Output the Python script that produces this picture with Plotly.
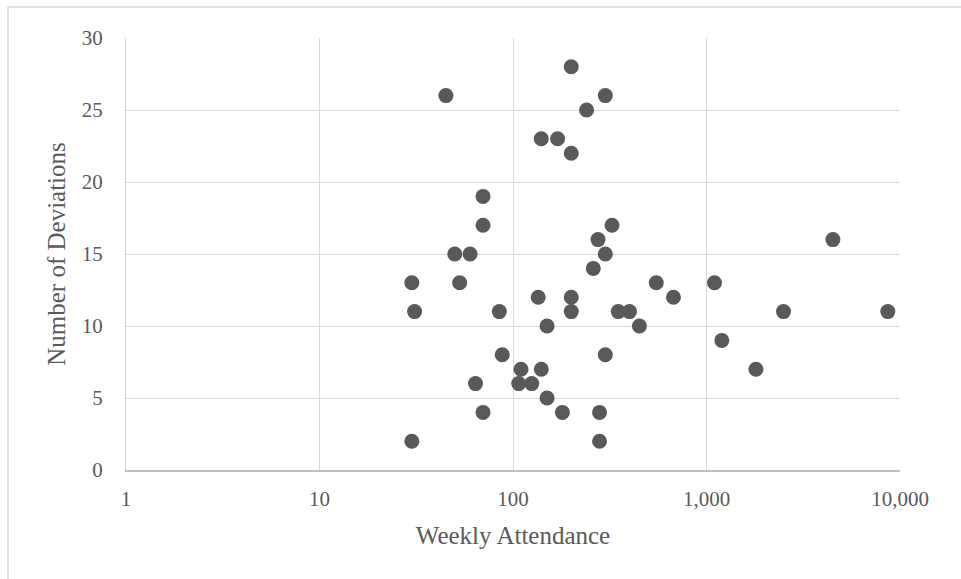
import plotly.graph_objects as go

attendance = [30, 30, 31, 45, 50, 53, 60, 64, 70, 70, 70, 85, 88, 107, 110, 125,
              135, 140, 140, 150, 150, 170, 180, 200, 200, 200, 200, 240, 260, 275,
              280, 280, 300, 300, 300, 325, 350, 400, 450, 550, 675, 1100, 1200,
              1800, 2500, 4500, 8650]
deviations = [2, 13, 11, 26, 15, 13, 15, 6, 19, 17, 4, 11, 8, 6, 7, 6,
              12, 23, 7, 10, 5, 23, 4, 28, 22, 12, 11, 25, 14, 16,
              4, 2, 26, 15, 8, 17, 11, 11, 10, 13, 12, 13, 9,
              7, 11, 16, 11]

x_tickvals = [1, 10, 100, 1000, 10000]
x_ticktext = ["1", "10", "100", "1,000", "10,000"]
y_tickvals = [0, 5, 10, 15, 20, 25, 30]

font_family = "Liberation Serif"
text_color = "#595959"
grid_color = "#d9d9d9"

fig = go.Figure()
fig.add_trace(go.Scatter(
    x=attendance, y=deviations, mode="markers",
    marker=dict(size=15, color="#595959", line=dict(width=0)),
    showlegend=False,
))

fig.update_layout(
    width=961, height=579,
    margin=dict(l=126, r=61, t=38, b=109),
    paper_bgcolor="white", plot_bgcolor="white",
    font=dict(family=font_family, color=text_color),
    xaxis=dict(
        type="log", range=[0, 4],
        tickvals=x_tickvals, ticktext=x_ticktext,
        showgrid=True, gridcolor=grid_color, gridwidth=1,
        showline=True, linecolor="#bfbfbf", linewidth=1.5,
        zeroline=False, ticks="",
        tickfont=dict(size=21, family=font_family, color=text_color),
        ticklabelstandoff=9,
        title=dict(text="Weekly Attendance", standoff=17,
                   font=dict(size=25, family=font_family, color=text_color)),
    ),
    yaxis=dict(
        range=[0, 30], tickvals=y_tickvals,
        showgrid=True, gridcolor=grid_color, gridwidth=1,
        showline=True, linecolor=grid_color, linewidth=1,
        zeroline=False, ticks="",
        tickfont=dict(size=21, family=font_family, color=text_color),
        ticklabelstandoff=18,
        title=dict(text="Number of Deviations", standoff=9,
                   font=dict(size=25, family=font_family, color=text_color)),
    ),
    shapes=[dict(type="rect", xref="paper", yref="paper",
                 x0=(8 - 126) / 774, x1=1.2, y0=-0.5, y1=(470 - 7) / 432,
                 line=dict(color=grid_color, width=1.5), layer="below")],
)

fig.write_html("out.html")
